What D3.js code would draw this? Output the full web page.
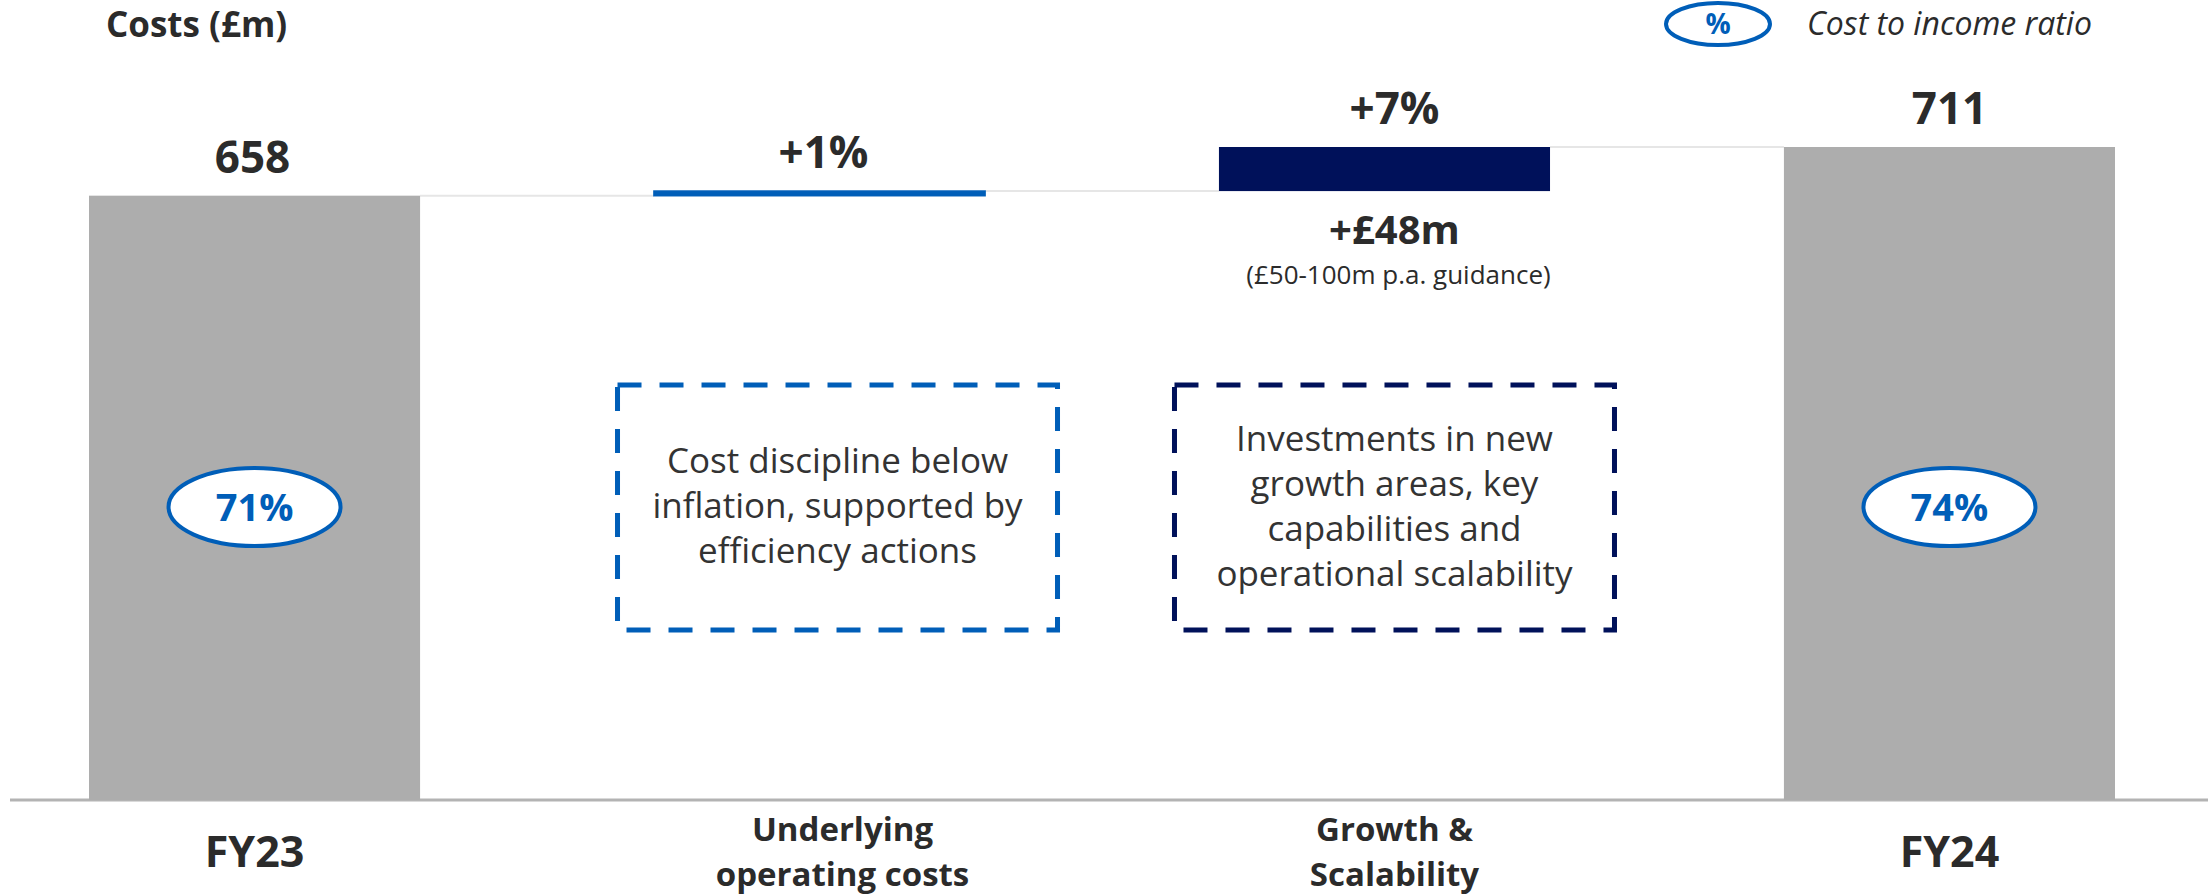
<!DOCTYPE html>
<html>
<head>
<meta charset="utf-8">
<script src="https://cdn.jsdelivr.net/npm/d3@7"></script>
<style>
  body { margin: 0; background: #fff; }
  svg { font-family: "Open Sans", "Noto Sans", sans-serif; }
</style>
</head>
<body>
<svg class="chart"></svg>
<script>
// chart data
var categories = ["FY23", "Underlying operating costs", "Growth & Scalability", "FY24"];
var catLines = [["FY23"], ["Underlying", "operating costs"], ["Growth &", "Scalability"], ["FY24"]];
var values = [658, 5, 48, 711];
var kinds = ["total", "delta", "delta", "total"];
var topLabels = ["658", "+1%", "+7%", "711"];
var ratios = ["71%", null, null, "74%"];
var growthNote = ["+£48m", "(£50-100m p.a. guidance)"];
var boxTexts = [
  null,
  ["Cost discipline below", "inflation, supported by", "efficiency actions"],
  ["Investments in new", "growth areas, key", "capabilities and", "operational scalability"],
  null
];

var width = 2208, height = 896;
var base = 800;
var fills = { total: "#adadad", delta1: "#005eb8", delta2: "#00115a" };
var textCol = "#2b2b2b";
// the annotation text boxes sit a little right of the bar centres
var labelShift = [-2, 4, 10, 0];
var boxShift = [0, 18, 10, 0];
var catShift = [0, 23, 10, 0];

var chart = d3.select(".chart")
    .attr("width", width)
    .attr("height", height);

var xScale = d3.scaleBand()
    .domain(categories)
    .range([89, 2115])
    .paddingInner(0.414)
    .paddingOuter(0);

var yScale = d3.scaleLinear()
    .domain([0, 711])
    .range([base, 147]);

function mid(c) { return xScale(c) + xScale.bandwidth() / 2; }

// running totals for the waterfall
var bars = [];
var running = 0;
categories.forEach(function(c, i) {
  var lo, hi;
  if (kinds[i] == "total") { lo = 0; hi = values[i]; running = values[i]; }
  else { lo = running; hi = running + values[i]; running = hi; }
  bars.push({ cat: c, lo: lo, hi: hi, i: i });
});

// connectors
for (var i = 0; i < bars.length - 1; i++) {
  var lvl = bars[i].hi;
  chart.append("line")
      .attr("x1", xScale(bars[i].cat) + xScale.bandwidth())
      .attr("x2", xScale(bars[i + 1].cat))
      .attr("y1", yScale(lvl))
      .attr("y2", yScale(lvl))
      .attr("stroke", "#e6e6e6")
      .attr("stroke-width", 2);
}

// baseline
chart.append("line")
    .attr("x1", 10).attr("x2", width)
    .attr("y1", base).attr("y2", base)
    .attr("stroke", "#b3b3b3")
    .attr("stroke-width", 3);

// bars
chart.selectAll("rect.bar")
    .data(bars)
  .enter().append("rect")
    .attr("class", "bar")
    .attr("x", function(d) { return xScale(d.cat); })
    .attr("width", xScale.bandwidth())
    .attr("y", function(d) { return yScale(d.hi); })
    .attr("height", function(d) { return yScale(d.lo) - yScale(d.hi); })
    .attr("fill", function(d) {
      if (kinds[d.i] == "total") return fills.total;
      return d.i == 1 ? fills.delta1 : fills.delta2;
    })
    .attr("stroke", function(d) { return d.i == 1 ? fills.delta1 : "none"; })
    .attr("stroke-width", 1.6);

// labels above bars
chart.selectAll("text.top")
    .data(bars)
  .enter().append("text")
    .attr("class", "top")
    .attr("x", function(d) { return mid(d.cat) + labelShift[d.i]; })
    .attr("y", function(d) { return yScale(d.hi) - 23; })
    .attr("text-anchor", "middle")
    .attr("font-size", 44)
    .attr("font-weight", 700)
    .attr("fill", textCol)
    .text(function(d) { return topLabels[d.i]; });

// growth note under the navy bar
var gx = mid(categories[2]) + labelShift[2];
chart.append("text")
    .attr("x", gx).attr("y", yScale(bars[2].lo) + 53)
    .attr("text-anchor", "middle")
    .attr("font-size", 40).attr("font-weight", 700)
    .attr("fill", textCol)
    .text(growthNote[0]);
chart.append("text")
    .attr("x", gx + 4).attr("y", yScale(bars[2].lo) + 93)
    .attr("text-anchor", "middle")
    .attr("font-size", 26)
    .attr("fill", textCol)
    .text(growthNote[1]);

// cost to income ellipses
bars.forEach(function(d) {
  if (!ratios[d.i]) return;
  var cx = mid(d.cat);
  chart.append("ellipse")
      .attr("cx", cx).attr("cy", 507)
      .attr("rx", 86).attr("ry", 39)
      .attr("fill", "#fff")
      .attr("stroke", fills.delta1)
      .attr("stroke-width", 4);
  chart.append("text")
      .attr("x", cx).attr("y", 507)
      .attr("dy", "0.36em")
      .attr("text-anchor", "middle")
      .attr("font-size", 38).attr("font-weight", 700)
      .attr("fill", fills.delta1)
      .text(ratios[d.i]);
});

// dashed boxes
bars.forEach(function(d) {
  var lines = boxTexts[d.i];
  if (!lines) return;
  var cx = mid(d.cat) + boxShift[d.i];
  var col = d.i == 1 ? fills.delta1 : fills.delta2;
  chart.append("rect")
      .attr("x", cx - 220).attr("y", 385)
      .attr("width", 440).attr("height", 245)
      .attr("fill", "none")
      .attr("stroke", col)
      .attr("stroke-width", 5)
      .attr("stroke-dasharray", "24,18");
  var lh = 45, cy = 506;
  lines.forEach(function(l, k) {
    chart.append("text")
        .attr("x", cx)
        .attr("y", cy + (k - (lines.length - 1) / 2) * lh)
        .attr("dy", "0.35em")
        .attr("text-anchor", "middle")
        .attr("font-size", 35)
        .attr("fill", "#333")
        .text(l);
  });
});

// category labels
bars.forEach(function(d) {
  var cx = mid(d.cat) + catShift[d.i];
  var lines = catLines[d.i];
  lines.forEach(function(l, k) {
    chart.append("text")
        .attr("x", cx)
        .attr("y", lines.length == 1 ? 867 : 841 + k * 45)
        .attr("text-anchor", "middle")
        .attr("font-size", lines.length == 1 ? 43 : 33)
        .attr("font-weight", 700)
        .attr("fill", textCol)
        .text(l);
  });
});

// title + legend
chart.append("text")
    .attr("x", 106).attr("y", 25).attr("dy", "0.35em")
    .attr("font-size", 35).attr("font-weight", 700)
    .attr("fill", textCol)
    .text("Costs (£m)");

chart.append("ellipse")
    .attr("cx", 1718).attr("cy", 24)
    .attr("rx", 52).attr("ry", 21)
    .attr("fill", "#fff")
    .attr("stroke", fills.delta1)
    .attr("stroke-width", 4);
chart.append("text")
    .attr("x", 1718).attr("y", 24).attr("dy", "0.36em")
    .attr("text-anchor", "middle")
    .attr("font-size", 28).attr("font-weight", 700)
    .attr("fill", fills.delta1)
    .text("%");
chart.append("text")
    .attr("x", 1807).attr("y", 24).attr("dy", "0.35em")
    .attr("font-size", 32).attr("font-style", "italic")
    .attr("fill", textCol)
    .text("Cost to income ratio");
</script>
</body>
</html>
